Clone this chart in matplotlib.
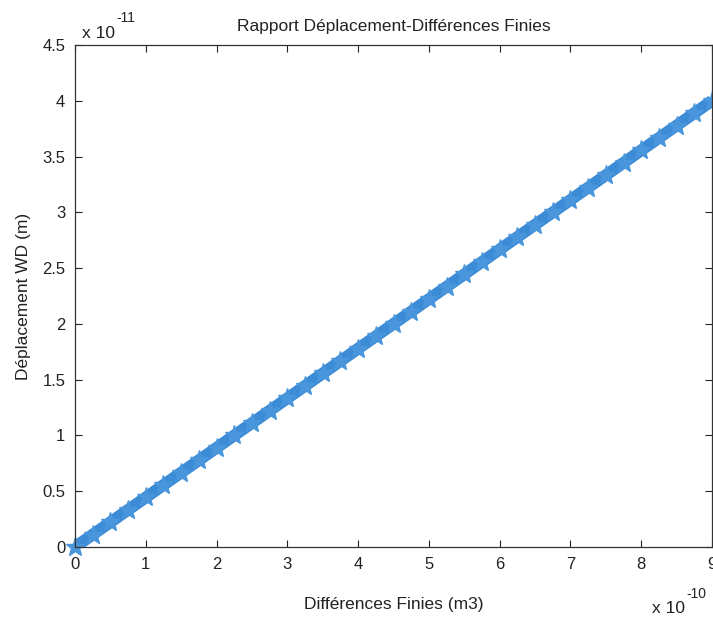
import matplotlib
matplotlib.use("Agg")
import matplotlib.pyplot as plt
import numpy as np

plt.rcParams['font.family'] = ['Liberation Sans', 'DejaVu Sans']

# data (x in units of 1e-10, y in units of 1e-11)
x_vals = [0, 0.25, 0.5, 0.75, 1.0, 1.25, 1.5, 1.75, 2.0, 2.25, 2.5, 2.75, 3.0,
          3.25, 3.5, 3.75, 4.0, 4.25, 4.5, 4.75, 5.0, 5.25, 5.5, 5.75, 6.0,
          6.25, 6.5, 6.75, 7.0, 7.25, 7.5, 7.75, 8.0, 8.25, 8.5, 8.75, 9.0]
y_vals = [0, 0.111, 0.222, 0.333, 0.444, 0.556, 0.667, 0.778, 0.889, 1.0,
          1.111, 1.222, 1.333, 1.444, 1.556, 1.667, 1.778, 1.889, 2.0, 2.111,
          2.222, 2.333, 2.444, 2.556, 2.667, 2.778, 2.889, 3.0, 3.111, 3.222,
          3.333, 3.444, 3.556, 3.667, 3.778, 3.889, 4.0]
x_ticks = [0, 1, 2, 3, 4, 5, 6, 7, 8, 9]
y_ticks = [0, 0.5, 1, 1.5, 2, 2.5, 3, 3.5, 4, 4.5]

xs = np.array(x_vals) * 1e-10
ys = np.array(y_vals) * 1e-11

fig = plt.figure(figsize=(7.13, 6.21), dpi=100)
ax = fig.add_axes([75/713, 1-547/621, (712-75)/713, (547-45)/621])

ax.plot(xs, ys, color='#3b8bd6', linewidth=8.5, solid_capstyle='butt')
ax.plot(xs, ys, linestyle='none', color='#4a96dc', marker='*', markersize=14,
        markeredgewidth=1.0, clip_on=False)

ax.set_xlim(0, 9e-10)
ax.set_ylim(0, 4.5e-11)
ax.set_xticks(np.array(x_ticks) * 1e-10)
ax.set_xticklabels([str(t) for t in x_ticks])
ax.set_yticks(np.array(y_ticks) * 1e-11)
ax.set_yticklabels([('%g' % t) for t in y_ticks])
ax.tick_params(direction='in', length=5, width=0.8, top=True, right=True,
               labelsize=12, colors='#222222', pad=7)
for s in ax.spines.values():
    s.set_linewidth(0.9)
    s.set_color('#333333')

ax.set_title('Rapport Déplacement-Différences Finies', fontsize=12.5, pad=10,
             color='#222222')
ax.set_xlabel('Différences Finies (m3)', fontsize=12.5, color='#222222', labelpad=18)
ax.set_ylabel('Déplacement WD (m)', fontsize=12.5, color='#222222', labelpad=8)

fig.text(82/713, 1-38/621, 'x 10', fontsize=12.5, color='#222222',
         va='baseline', ha='left')
fig.text(116/713, 1-22/621, '-11', fontsize=10, color='#222222',
         va='baseline', ha='left')
fig.text(652/713, 1-613/621, 'x 10', fontsize=12.5, color='#222222',
         va='baseline', ha='left')
fig.text(686/713, 1-598/621, '-10', fontsize=10, color='#222222',
         va='baseline', ha='left')

fig.savefig('out.png', dpi=100)
